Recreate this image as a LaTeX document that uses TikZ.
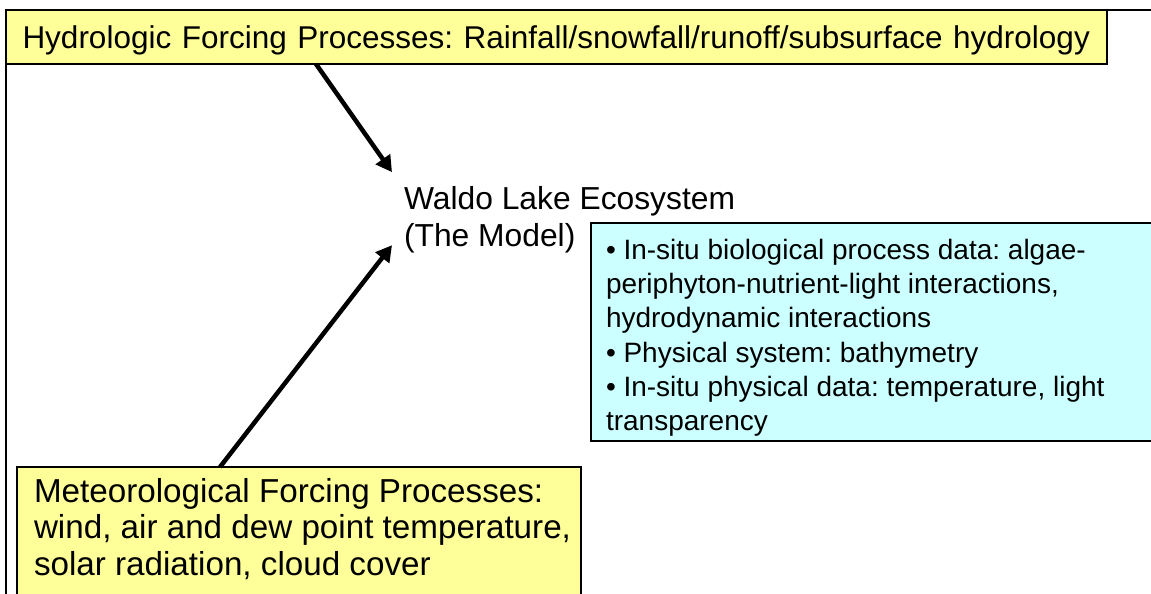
\documentclass[tikz,border=0pt]{standalone}
\usepackage{fontspec}
\setmainfont{Liberation Sans}
\usetikzlibrary{positioning,arrows.meta,calc}

\definecolor{boxyellow}{HTML}{FFFF99}
\definecolor{boxcyan}{HTML}{CCFFFF}

\tikzset{
  forcebox/.style={draw=black, line width=2.5pt, fill=boxyellow, anchor=north west, outer sep=0pt},
  databox/.style={draw=black, line width=2.5pt, fill=boxcyan, anchor=north west, outer sep=0pt},
  boxtext/.style={anchor=north west, align=left, inner sep=0pt, outer sep=0pt},
  feed/.style={line width=4.5pt, -{Triangle[length=16pt,width=17pt]}}
}

\begin{document}
\frenchspacing
\begin{tikzpicture}[x=1pt,y=-1pt]
  \clip (0,0) rectangle (1151,594);
  \fill[white] (0,0) rectangle (1151,594);
  % outer frame, cut off at right and bottom
  \draw[line width=2.5pt] (6,600) -- (6,10) -- (1160,10);

  \node[forcebox, minimum width=1101pt, minimum height=54pt, inner xsep=16pt, inner ysep=0pt,
        text width=1068pt, text depth=0pt, align=left,
        font=\fontsize{31.5}{37}\selectfont] (hydro) at (6,10)
    {\mbox{Hydrologic Forcing Processes: Rainfall/snowfall/runoff/subsurface hydrology}};

  \node[boxtext, font=\fontsize{31.8}{37}\selectfont] (model) at (404,186.2)
    {Waldo Lake Ecosystem\\(The Model)};

  \node[databox, minimum width=600pt, minimum height=218pt] (data) at (591,223) {};
  \node[boxtext, font=\fontsize{28}{34.3}\selectfont] (datatxt) at (606,239)
    {\textbullet{} In-situ biological process data: algae-\\
     periphyton-nutrient-light interactions,\\
     hydrodynamic interactions\\
     \textbullet{} Physical system: bathymetry\\
     \textbullet{} In-situ physical data: temperature, light\\
     transparency};

  \node[forcebox, minimum width=564pt, minimum height=200pt] (meteo) at (17,467) {};
  \node[boxtext, font=\fontsize{33.2}{36.5}\selectfont] (meteotxt) at (34,478.4)
    {Meteorological Forcing Processes:\\
     wind, air and dew point temperature,\\
     solar radiation, cloud cover};

  % forcing arrows into the model
  \draw[feed] ($(hydro.south west)+(310,0)$) -- ($(model.north west)+(-12,-14)$);
  \draw[feed] ($(meteo.north west)+(203,0)$) -- ($(model.north west)+(-12,59)$);
\end{tikzpicture}
\end{document}
